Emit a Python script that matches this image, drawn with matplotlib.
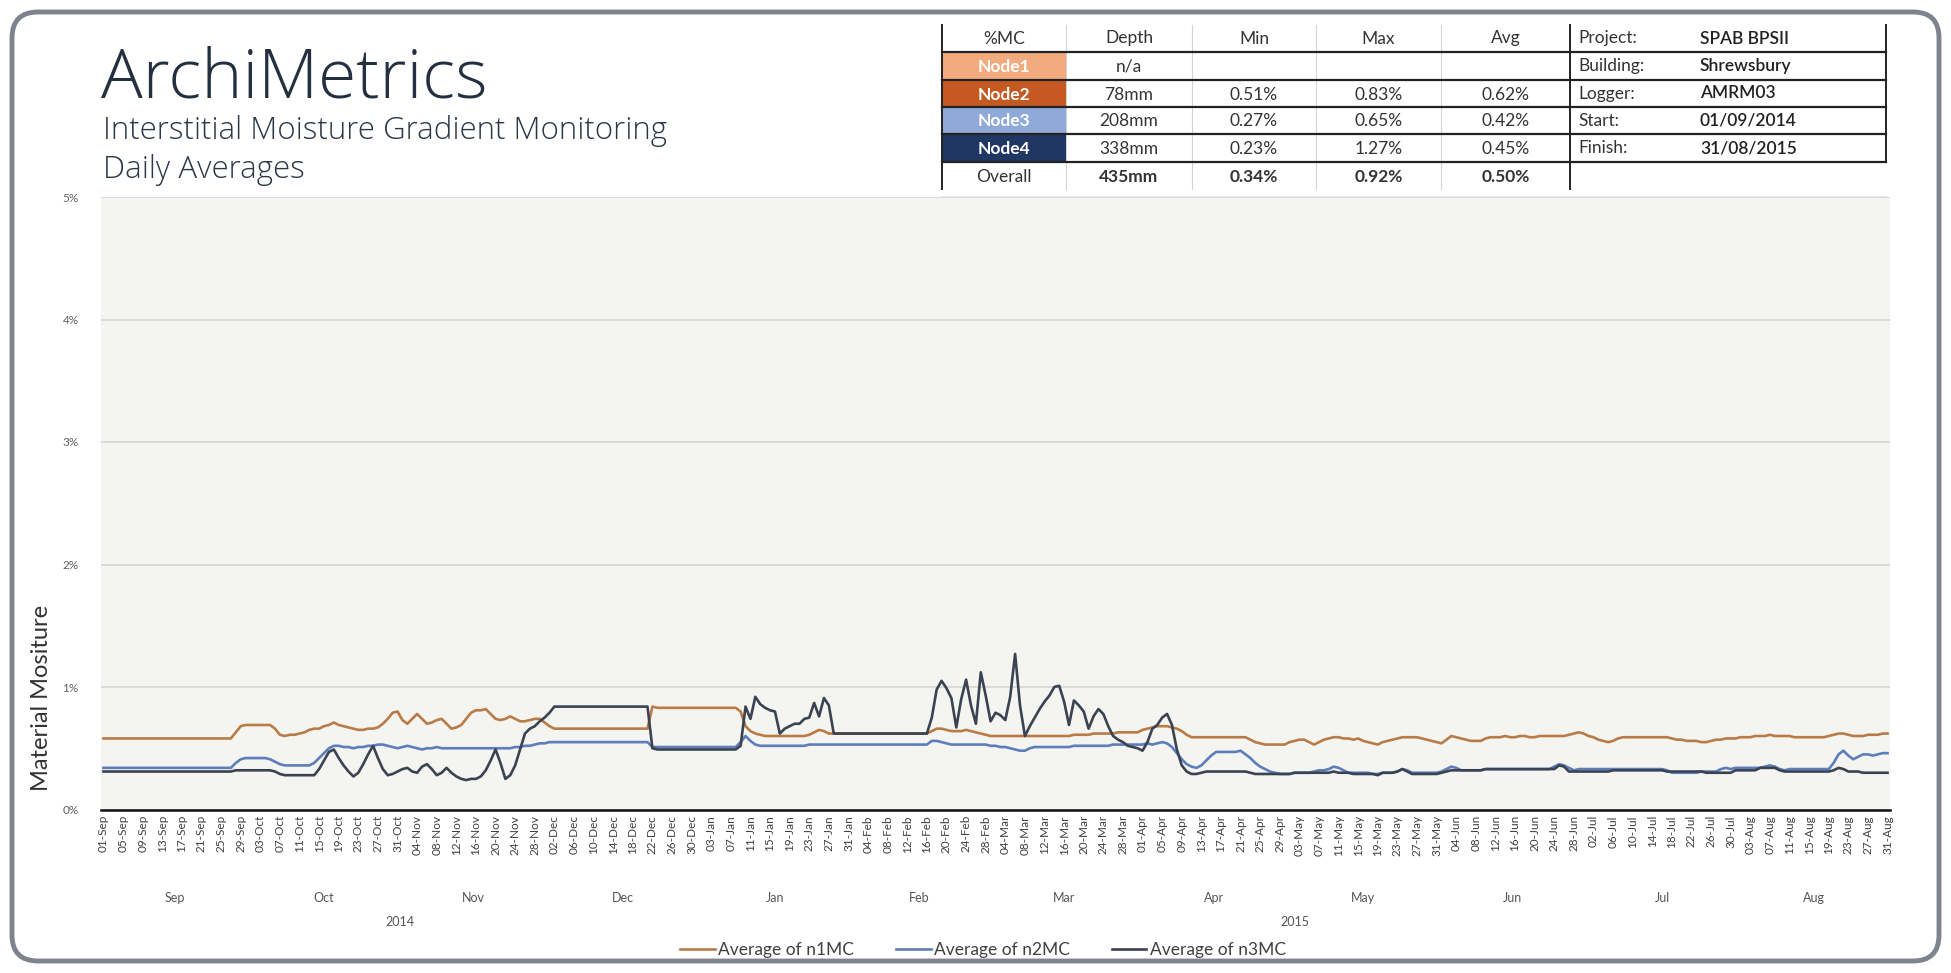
import matplotlib
matplotlib.use('Agg')
import matplotlib.pyplot as plt
import pandas as pd
from matplotlib.patches import FancyBboxPatch, Rectangle

W, H = 1951, 973
plt.rcParams['font.family'] = ['Lato', 'DejaVu Sans']
HEAD_FONT = ['Open Sans', 'Lato', 'DejaVu Sans']

# daily averages, 01/09/2014 .. 31/08/2015 (% moisture content)
N1_MC = [
    # Sep
    0.58, 0.58, 0.58, 0.58, 0.58, 0.58, 0.58, 0.58, 0.58, 0.58, 0.58, 0.58, 0.58, 0.58, 0.58,
    0.58, 0.58, 0.58, 0.58, 0.58, 0.58, 0.58, 0.58, 0.58, 0.58, 0.58, 0.58, 0.63, 0.68, 0.69,
    # Oct
    0.69, 0.69, 0.69, 0.69, 0.69, 0.66, 0.61, 0.60, 0.61, 0.61, 0.62, 0.63, 0.65, 0.66, 0.66, 0.68,
    0.69, 0.71, 0.69, 0.68, 0.67, 0.66, 0.65, 0.65, 0.66, 0.66, 0.67, 0.70, 0.74, 0.79, 0.80,
    # Nov
    0.73, 0.70, 0.74, 0.78, 0.74, 0.70, 0.71, 0.73, 0.74, 0.70, 0.66, 0.67, 0.69, 0.74, 0.79,
    0.81, 0.81, 0.82, 0.78, 0.74, 0.73, 0.74, 0.76, 0.74, 0.72, 0.72, 0.73, 0.74, 0.74, 0.71,
    # Dec
    0.68, 0.66, 0.66, 0.66, 0.66, 0.66, 0.66, 0.66, 0.66, 0.66, 0.66, 0.66, 0.66, 0.66, 0.66, 0.66,
    0.66, 0.66, 0.66, 0.66, 0.66, 0.84, 0.83, 0.83, 0.83, 0.83, 0.83, 0.83, 0.83, 0.83, 0.83,
    # Jan
    0.83, 0.83, 0.83, 0.83, 0.83, 0.83, 0.83, 0.83, 0.80, 0.68, 0.64, 0.62, 0.61, 0.60, 0.60, 0.60,
    0.60, 0.60, 0.60, 0.60, 0.60, 0.60, 0.61, 0.63, 0.65, 0.64, 0.62, 0.62, 0.62, 0.62, 0.62,
    # Feb
    0.62, 0.62, 0.62, 0.62, 0.62, 0.62, 0.62, 0.62, 0.62, 0.62, 0.62, 0.62, 0.62, 0.62,
    0.62, 0.62, 0.64, 0.66, 0.66, 0.65, 0.64, 0.64, 0.64, 0.65, 0.64, 0.63, 0.62, 0.61,
    # Mar
    0.60, 0.60, 0.60, 0.60, 0.60, 0.60, 0.60, 0.60, 0.60, 0.60, 0.60, 0.60, 0.60, 0.60, 0.60, 0.60,
    0.60, 0.61, 0.61, 0.61, 0.61, 0.62, 0.62, 0.62, 0.62, 0.62, 0.63, 0.63, 0.63, 0.63, 0.63,
    # Apr
    0.65, 0.66, 0.67, 0.68, 0.68, 0.68, 0.67, 0.66, 0.64, 0.61, 0.59, 0.59, 0.59, 0.59, 0.59,
    0.59, 0.59, 0.59, 0.59, 0.59, 0.59, 0.59, 0.57, 0.55, 0.54, 0.53, 0.53, 0.53, 0.53, 0.53,
    # May
    0.55, 0.56, 0.57, 0.57, 0.55, 0.53, 0.55, 0.57, 0.58, 0.59, 0.59, 0.58, 0.58, 0.57, 0.58, 0.56,
    0.55, 0.54, 0.53, 0.55, 0.56, 0.57, 0.58, 0.59, 0.59, 0.59, 0.59, 0.58, 0.57, 0.56, 0.55,
    # Jun
    0.54, 0.57, 0.60, 0.59, 0.58, 0.57, 0.56, 0.56, 0.56, 0.58, 0.59, 0.59, 0.59, 0.60, 0.59,
    0.59, 0.60, 0.60, 0.59, 0.59, 0.60, 0.60, 0.60, 0.60, 0.60, 0.60, 0.61, 0.62, 0.63, 0.62,
    # Jul
    0.60, 0.59, 0.57, 0.56, 0.55, 0.56, 0.58, 0.59, 0.59, 0.59, 0.59, 0.59, 0.59, 0.59, 0.59, 0.59,
    0.59, 0.58, 0.57, 0.57, 0.56, 0.56, 0.56, 0.55, 0.55, 0.56, 0.57, 0.57, 0.58, 0.58, 0.58,
    # Aug
    0.59, 0.59, 0.59, 0.60, 0.60, 0.60, 0.61, 0.60, 0.60, 0.60, 0.60, 0.59, 0.59, 0.59, 0.59, 0.59,
    0.59, 0.59, 0.60, 0.61, 0.62, 0.62, 0.61, 0.60, 0.60, 0.60, 0.61, 0.61, 0.61, 0.62, 0.62,
]

N2_MC = [
    # Sep
    0.34, 0.34, 0.34, 0.34, 0.34, 0.34, 0.34, 0.34, 0.34, 0.34, 0.34, 0.34, 0.34, 0.34, 0.34,
    0.34, 0.34, 0.34, 0.34, 0.34, 0.34, 0.34, 0.34, 0.34, 0.34, 0.34, 0.34, 0.38, 0.41, 0.42,
    # Oct
    0.42, 0.42, 0.42, 0.42, 0.41, 0.39, 0.37, 0.36, 0.36, 0.36, 0.36, 0.36, 0.36, 0.38, 0.42, 0.46,
    0.50, 0.52, 0.52, 0.51, 0.51, 0.50, 0.51, 0.51, 0.52, 0.52, 0.53, 0.53, 0.52, 0.51, 0.50,
    # Nov
    0.51, 0.52, 0.51, 0.50, 0.49, 0.50, 0.50, 0.51, 0.50, 0.50, 0.50, 0.50, 0.50, 0.50, 0.50,
    0.50, 0.50, 0.50, 0.50, 0.50, 0.50, 0.50, 0.50, 0.51, 0.51, 0.52, 0.52, 0.53, 0.54, 0.54,
    # Dec
    0.55, 0.55, 0.55, 0.55, 0.55, 0.55, 0.55, 0.55, 0.55, 0.55, 0.55, 0.55, 0.55, 0.55, 0.55, 0.55,
    0.55, 0.55, 0.55, 0.55, 0.55, 0.51, 0.51, 0.51, 0.51, 0.51, 0.51, 0.51, 0.51, 0.51, 0.51,
    # Jan
    0.51, 0.51, 0.51, 0.51, 0.51, 0.51, 0.51, 0.51, 0.55, 0.60, 0.56, 0.53, 0.52, 0.52, 0.52, 0.52,
    0.52, 0.52, 0.52, 0.52, 0.52, 0.52, 0.53, 0.53, 0.53, 0.53, 0.53, 0.53, 0.53, 0.53, 0.53,
    # Feb
    0.53, 0.53, 0.53, 0.53, 0.53, 0.53, 0.53, 0.53, 0.53, 0.53, 0.53, 0.53, 0.53, 0.53,
    0.53, 0.53, 0.56, 0.56, 0.55, 0.54, 0.53, 0.53, 0.53, 0.53, 0.53, 0.53, 0.53, 0.53,
    # Mar
    0.52, 0.52, 0.51, 0.51, 0.50, 0.49, 0.48, 0.48, 0.50, 0.51, 0.51, 0.51, 0.51, 0.51, 0.51, 0.51,
    0.51, 0.52, 0.52, 0.52, 0.52, 0.52, 0.52, 0.52, 0.52, 0.53, 0.53, 0.53, 0.53, 0.53, 0.53,
    # Apr
    0.53, 0.54, 0.53, 0.54, 0.55, 0.54, 0.51, 0.46, 0.41, 0.37, 0.35, 0.34, 0.36, 0.40, 0.44,
    0.47, 0.47, 0.47, 0.47, 0.47, 0.48, 0.45, 0.42, 0.38, 0.35, 0.33, 0.31, 0.30, 0.29, 0.29,
    # May
    0.29, 0.30, 0.30, 0.30, 0.30, 0.31, 0.32, 0.32, 0.33, 0.35, 0.34, 0.32, 0.30, 0.30, 0.30, 0.30,
    0.30, 0.29, 0.29, 0.30, 0.30, 0.30, 0.31, 0.33, 0.32, 0.30, 0.30, 0.30, 0.30, 0.30, 0.30,
    # Jun
    0.31, 0.33, 0.35, 0.34, 0.32, 0.32, 0.32, 0.32, 0.32, 0.33, 0.33, 0.33, 0.33, 0.33, 0.33,
    0.33, 0.33, 0.33, 0.33, 0.33, 0.33, 0.33, 0.33, 0.35, 0.37, 0.36, 0.34, 0.32, 0.33, 0.33,
    # Jul
    0.33, 0.33, 0.33, 0.33, 0.33, 0.33, 0.33, 0.33, 0.33, 0.33, 0.33, 0.33, 0.33, 0.33, 0.33, 0.33,
    0.32, 0.30, 0.30, 0.30, 0.30, 0.30, 0.30, 0.31, 0.31, 0.31, 0.31, 0.33, 0.34, 0.33, 0.34,
    # Aug
    0.34, 0.34, 0.34, 0.34, 0.34, 0.35, 0.36, 0.35, 0.33, 0.32, 0.33, 0.33, 0.33, 0.33, 0.33, 0.33,
    0.33, 0.33, 0.33, 0.38, 0.45, 0.48, 0.44, 0.41, 0.43, 0.45, 0.45, 0.44, 0.45, 0.46, 0.46,
]

N3_MC = [
    # Sep
    0.31, 0.31, 0.31, 0.31, 0.31, 0.31, 0.31, 0.31, 0.31, 0.31, 0.31, 0.31, 0.31, 0.31, 0.31,
    0.31, 0.31, 0.31, 0.31, 0.31, 0.31, 0.31, 0.31, 0.31, 0.31, 0.31, 0.31, 0.32, 0.32, 0.32,
    # Oct
    0.32, 0.32, 0.32, 0.32, 0.32, 0.31, 0.29, 0.28, 0.28, 0.28, 0.28, 0.28, 0.28, 0.28, 0.33, 0.40,
    0.47, 0.49, 0.42, 0.36, 0.31, 0.27, 0.30, 0.37, 0.45, 0.52, 0.42, 0.33, 0.28, 0.29, 0.31,
    # Nov
    0.33, 0.34, 0.31, 0.30, 0.35, 0.37, 0.33, 0.28, 0.30, 0.34, 0.30, 0.27, 0.25, 0.24, 0.25,
    0.25, 0.27, 0.32, 0.40, 0.49, 0.38, 0.25, 0.28, 0.36, 0.49, 0.62, 0.66, 0.68, 0.72, 0.75,
    # Dec
    0.79, 0.84, 0.84, 0.84, 0.84, 0.84, 0.84, 0.84, 0.84, 0.84, 0.84, 0.84, 0.84, 0.84, 0.84, 0.84,
    0.84, 0.84, 0.84, 0.84, 0.84, 0.50, 0.49, 0.49, 0.49, 0.49, 0.49, 0.49, 0.49, 0.49, 0.49,
    # Jan
    0.49, 0.49, 0.49, 0.49, 0.49, 0.49, 0.49, 0.49, 0.52, 0.84, 0.74, 0.92, 0.86, 0.83, 0.81, 0.80,
    0.62, 0.66, 0.68, 0.70, 0.70, 0.74, 0.75, 0.87, 0.76, 0.91, 0.85, 0.62, 0.62, 0.62, 0.62,
    # Feb
    0.62, 0.62, 0.62, 0.62, 0.62, 0.62, 0.62, 0.62, 0.62, 0.62, 0.62, 0.62, 0.62, 0.62,
    0.62, 0.62, 0.75, 0.98, 1.05, 0.99, 0.91, 0.67, 0.90, 1.06, 0.85, 0.70, 1.12, 0.93,
    # Mar
    0.72, 0.79, 0.77, 0.73, 0.92, 1.27, 0.85, 0.60, 0.68, 0.75, 0.82, 0.88, 0.93, 1.00, 1.01, 0.88,
    0.69, 0.89, 0.85, 0.80, 0.66, 0.76, 0.82, 0.78, 0.68, 0.60, 0.57, 0.55, 0.52, 0.51, 0.50,
    # Apr
    0.48, 0.55, 0.66, 0.69, 0.75, 0.78, 0.69, 0.49, 0.36, 0.31, 0.29, 0.29, 0.30, 0.31, 0.31,
    0.31, 0.31, 0.31, 0.31, 0.31, 0.31, 0.31, 0.30, 0.29, 0.29, 0.29, 0.29, 0.29, 0.29, 0.29,
    # May
    0.29, 0.30, 0.30, 0.30, 0.30, 0.30, 0.30, 0.30, 0.30, 0.31, 0.30, 0.30, 0.30, 0.29, 0.29, 0.29,
    0.29, 0.29, 0.28, 0.30, 0.30, 0.30, 0.31, 0.33, 0.31, 0.29, 0.29, 0.29, 0.29, 0.29, 0.29,
    # Jun
    0.30, 0.31, 0.32, 0.32, 0.32, 0.32, 0.32, 0.32, 0.32, 0.33, 0.33, 0.33, 0.33, 0.33, 0.33,
    0.33, 0.33, 0.33, 0.33, 0.33, 0.33, 0.33, 0.33, 0.33, 0.36, 0.35, 0.31, 0.31, 0.31, 0.31,
    # Jul
    0.31, 0.31, 0.31, 0.31, 0.31, 0.32, 0.32, 0.32, 0.32, 0.32, 0.32, 0.32, 0.32, 0.32, 0.32, 0.32,
    0.31, 0.31, 0.31, 0.31, 0.31, 0.31, 0.31, 0.31, 0.30, 0.30, 0.30, 0.30, 0.30, 0.30, 0.32,
    # Aug
    0.32, 0.32, 0.32, 0.32, 0.34, 0.34, 0.34, 0.34, 0.32, 0.31, 0.31, 0.31, 0.31, 0.31, 0.31, 0.31,
    0.31, 0.31, 0.31, 0.32, 0.34, 0.33, 0.31, 0.31, 0.31, 0.30, 0.30, 0.30, 0.30, 0.30, 0.30,
]

SERIES_NAMES = ['Average of n1MC', 'Average of n2MC', 'Average of n3MC']
SERIES_COLORS = ['#b97b47', '#5d7dbb', '#3b4352']

Y_TICKS = [0, 1, 2, 3, 4, 5]
MONTHS = ['Sep', 'Oct', 'Nov', 'Dec', 'Jan', 'Feb', 'Mar', 'Apr', 'May', 'Jun', 'Jul', 'Aug']
YEARS = ['2014', '2015']

# summary table
TABLE_HEAD = ['%MC', 'Depth', 'Min', 'Max', 'Avg']
NODE_NAMES = ['Node1', 'Node2', 'Node3', 'Node4', 'Overall']
NODE_DEPTH = ['n/a', '78mm', '208mm', '338mm', '435mm']
NODE_MIN = ['', '0.51%', '0.27%', '0.23%', '0.34%']
NODE_MAX = ['', '0.83%', '0.65%', '1.27%', '0.92%']
NODE_AVG = ['', '0.62%', '0.42%', '0.45%', '0.50%']
NODE_FILL = ['#f2ab7e', '#c45a22', '#8fa9d8', '#1f3762', None]
INFO_LABELS = ['Project:', 'Building:', 'Logger:', 'Start:', 'Finish:']
INFO_VALUES = ['SPAB BPSII', 'Shrewsbury', 'AMRM03', '01/09/2014', '31/08/2015']

dates = pd.date_range('2014-09-01', '2015-08-31', freq='D')
days = list(range(len(dates)))
assert len(N1_MC) == len(N2_MC) == len(N3_MC) == len(dates)

TXT = '#333333'
fig = plt.figure(figsize=(W / 100, H / 100), dpi=100)
fig.patch.set_facecolor('white')

# pixel-space layer for the frame, heading and table
ov = fig.add_axes([0, 0, 1, 1])
ov.set_xlim(0, W)
ov.set_ylim(H, 0)
ov.axis('off')
ov.add_patch(FancyBboxPatch((12, 12), W - 24, H - 24,
                            boxstyle='round,pad=0,rounding_size=26',
                            fc='white', ec='#7e838d', lw=3.5))

ov.text(101, 97, 'ArchiMetrics', fontsize=50, family=HEAD_FONT, fontweight='light',
        color='#243040', va='baseline')
ov.text(103, 131, 'Interstitial Moisture Gradient Monitoring', fontsize=22.5, family=HEAD_FONT,
        fontweight='light', color='#2c3747', va='center')
ov.text(103, 170, 'Daily Averages', fontsize=22.5, family=HEAD_FONT, fontweight='light',
        color='#2c3747', va='center')

cols = [942, 1066, 1192, 1316, 1441, 1570, 1886]
rows = [25, 52, 80, 107, 134, 162, 189]
col_c = [(cols[i] + cols[i + 1]) / 2 for i in range(5)]

for i, fill in enumerate(NODE_FILL):
    if fill:
        ov.add_patch(Rectangle((cols[0], rows[i + 1]), cols[1] - cols[0], rows[i + 2] - rows[i + 1],
                               fc=fill, ec='none', zorder=2))
for x in cols[1:5]:
    ov.plot([x, x], [rows[0], rows[-1]], color='#d4d4d4', lw=0.8, zorder=1)
ov.plot([cols[0], cols[0]], [rows[0], rows[-1]], color='#222', lw=1.4, zorder=3)
ov.plot([cols[5], cols[5]], [rows[0], rows[-1]], color='#222', lw=1.4, zorder=3)
ov.plot([cols[6], cols[6]], [rows[0], rows[5]], color='#222', lw=1.4, zorder=3)
for y in rows[1:6]:
    ov.plot([cols[0], cols[6]], [y, y], color='#222', lw=1.6, zorder=3)
ov.plot([cols[0], cols[6]], [197, 197], color='#e2e2e2', lw=1.2, zorder=1)

for j, t in enumerate(TABLE_HEAD):
    ov.text(col_c[j], (rows[0] + rows[1]) / 2, t, fontsize=12.5, color=TXT, ha='center', va='center')
for i, name in enumerate(NODE_NAMES):
    yc = (rows[i + 1] + rows[i + 2]) / 2 + 1
    last = name == 'Overall'
    ov.text(col_c[0], yc, name, fontsize=12.5, ha='center', va='center', zorder=4,
            color=TXT if last else 'white', fontweight='normal' if last else 'bold')
    wt = 'bold' if last else 'normal'
    for j, vals in enumerate([NODE_DEPTH, NODE_MIN, NODE_MAX, NODE_AVG]):
        ov.text(col_c[j + 1], yc, vals[i], fontsize=12.5, color=TXT, ha='center',
                va='center', fontweight=wt)
for i, (lab, val) in enumerate(zip(INFO_LABELS, INFO_VALUES)):
    yc = (rows[i] + rows[i + 1]) / 2
    ov.text(1578, yc, lab, fontsize=12.5, color=TXT, va='center')
    ov.text(1700, yc, val, fontsize=12.5, color='#222', va='center', fontweight='semibold')

# chart
top, bot, left, right = 197, 809.5, 101, 1890
ax = fig.add_axes([left / W, 1 - bot / H, (right - left) / W, (bot - top) / H])
ax.set_facecolor('#f4f4f0')
for vals, name, c in zip([N1_MC, N2_MC, N3_MC], SERIES_NAMES, SERIES_COLORS):
    ax.plot(days, vals, color=c, lw=1.9, label=name)

ax.set_xlim(-0.5, len(days) - 0.5)
ax.set_ylim(0, 5)
ax.set_yticks(Y_TICKS)
ax.set_yticklabels([f'{v}%' for v in Y_TICKS], fontsize=8.5, color='#606060')
ax.yaxis.grid(True, color='#d8d8d6', lw=1.3)
ax.set_axisbelow(True)
for s in ['top', 'right', 'left']:
    ax.spines[s].set_visible(False)
ax.spines['bottom'].set_color('#111')
ax.spines['bottom'].set_linewidth(1.8)

tick_pos = days[::4]
ax.set_xticks(tick_pos)
ax.set_xticklabels([dates[d].strftime('%d-%b') for d in tick_pos], rotation=90,
                   fontsize=8.5, color='#404040')
ax.tick_params(axis='x', length=0, pad=4)
ax.tick_params(axis='y', length=0, pad=16)

# month and year bands under the day labels
tr = ax.get_xaxis_transform()
month_idx = dates.to_period('M')
for m in month_idx.unique():
    sel = [d for d in days if month_idx[d] == m]
    ax.text((sel[0] + sel[-1]) / 2, -0.145, MONTHS[(m.month - 9) % 12], transform=tr,
            fontsize=9, color='#555', ha='center', va='center')
for k, yr in enumerate(YEARS):
    sel = [d for d in days if str(dates[d].year) == yr]
    ax.text((sel[0] + sel[-1]) / 2, -0.184, yr, transform=tr,
            fontsize=9, color='#555', ha='center', va='center')

fig.text(41 / W, 1 - 698 / H, 'Material Mositure', rotation=90, fontsize=17,
         color='#333', ha='center', va='center')

leg = fig.legend(loc='center', bbox_to_anchor=(983 / W, 1 - 950 / H), ncol=3, frameon=False,
                 fontsize=12.5, handlelength=2.0, handletextpad=0.2, columnspacing=2.4)
for t in leg.get_texts():
    t.set_color('#404040')

fig.savefig('out.png', dpi=100, facecolor='white')
